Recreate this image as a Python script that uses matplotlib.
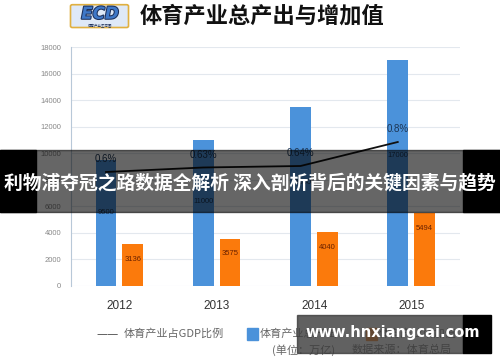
import matplotlib
matplotlib.use("Agg")
import matplotlib.pyplot as plt
from matplotlib.patches import Rectangle, FancyBboxPatch
import matplotlib.patheffects as pe
import numpy as np

plt.rcParams['font.family'] = ['Noto Sans CJK SC', 'DejaVu Sans']

# data
years = ["2012", "2013", "2014", "2015"]
output = [9500, 11000, 13500, 17000]       # 体育产业总产出
added = [3136, 3575, 4040, 5494]           # 体育产业增加值
gdp_ratio = [0.6, 0.63, 0.64, 0.8]         # 占GDP比例 (%)
gdp_labels = ["0.6%", "0.63%", "0.64%", "0.8%"]
yticks = [0, 2000, 4000, 6000, 8000, 10000, 12000, 14000, 16000, 18000]

blue = "#4b92da"
orange = "#fb7a0c"

fig = plt.figure(figsize=(5, 3.62), dpi=100)
ax = fig.add_axes([0.142, 0.21, 0.778, 0.66])

x = np.arange(len(years))
w = 0.215
xb = x - 0.14
xo = x + 0.135
ax.bar(xb, output, width=w, color=blue, zorder=3)
ax.bar(xo, added, width=w, color=orange, zorder=3)

for xi, v in zip(xb, output):
    ax.text(xi, v * 0.58, str(v), ha="center", va="center", fontsize=5.5,
            color="#1d3553", family="Liberation Sans", zorder=4)
for xi, v in zip(xo, added):
    ax.text(xi, v - 1150, str(v), ha="center", va="center", fontsize=5.5,
            color="#6b2200", family="Liberation Sans", zorder=4)

ax.set_xlim(-0.5, 3.5)
ax.set_ylim(0, 18000)
ax.set_yticks(yticks)
ax.set_yticklabels([str(t) for t in yticks], fontsize=5.5, color="#888888",
                   family="Liberation Sans")
ax.set_xticks(x)
ax.set_xticklabels(years, fontsize=8.5, color="#333333", family="Liberation Sans")
ax.tick_params(length=0, pad=7)
ax.tick_params(axis="x", pad=10)
ax.grid(axis="y", color="#e3e8ee", lw=0.8, zorder=0)
for s in ["top", "right", "bottom"]:
    ax.spines[s].set_visible(False)
ax.spines["left"].set_color("#b8c8d8")
ax.spines["left"].set_linewidth(0.8)

# GDP share line on a hidden second axis
ax2 = ax.twinx()
ax2.set_ylim(-0.16, 1.433)
ax2.plot(xb, gdp_ratio, color="#111111", lw=1.3, zorder=5)
for xi, v, lab in zip(xb, gdp_ratio, gdp_labels):
    ax2.text(xi, v + 0.085, lab, ha="center", va="center", fontsize=7,
             color="#1d3553", family="Liberation Sans")
ax2.axis("off")

# title with logo
fig.patches.append(FancyBboxPatch((0.145, 0.928), 0.108, 0.055,
                                  boxstyle="round,pad=0.004", transform=fig.transFigure,
                                  fc="#dfe9f7", ec="#e0b040", lw=1.2))
fig.text(0.2, 0.962, "ECD", ha="center", va="center", fontsize=12, fontweight="bold",
         style="italic", color="#3f78c8", family="DejaVu Sans",
         path_effects=[pe.withStroke(linewidth=1.5, foreground="#1c2f5a")])
fig.text(0.2, 0.931, "体育产业生态圈", ha="center", va="center", fontsize=2.5,
         color="#1c2f5a")
fig.text(0.28, 0.955, "体育产业总产出与增加值", ha="left", va="center", fontsize=16,
         fontweight="bold", color="#111111")

# legend
fig.text(0.192, 0.078, "——", ha="left", va="center", fontsize=8, color="#444444",
         family="DejaVu Sans")
fig.text(0.248, 0.078, "体育产业占GDP比例", ha="left", va="center", fontsize=8,
         color="#666666")
fig.patches.append(Rectangle((0.494, 0.062), 0.022, 0.032, transform=fig.transFigure,
                             color=blue))
fig.text(0.52, 0.078, "体育产业总产出", ha="left", va="center", fontsize=8, color="#666666")
fig.patches.append(Rectangle((0.732, 0.062), 0.022, 0.032, transform=fig.transFigure,
                             color=orange))
fig.text(0.757, 0.078, "体育产业增加值", ha="left", va="center", fontsize=8, color="#666666")
fig.text(0.544, 0.033, "(单位：万亿)", ha="left", va="center", fontsize=8, color="#666666")
fig.text(0.704, 0.033, "数据来源：体育总局", ha="left", va="center", fontsize=8,
         color="#666666")

# dark banner across the middle
b0, b1 = 1 - 212 / 362, 1 - 150 / 362
fig.patches.append(Rectangle((0, b0), 1, b1 - b0, transform=fig.transFigure,
                             color="black", alpha=0.6, zorder=10))
fig.patches.append(Rectangle((0, b0), 0.072, b1 - b0, transform=fig.transFigure,
                             color="black", zorder=10))
fig.patches.append(Rectangle((0.926, b0), 0.074, b1 - b0, transform=fig.transFigure,
                             color="black", zorder=10))
fig.text(0.5, 1 - 183 / 362, "利物浦夺冠之路数据全解析 深入剖析背后的关键因素与趋势",
         ha="center", va="center", fontsize=13.5, fontweight="bold", color="white",
         zorder=11)

# watermark
w0, w1 = 1 - 353 / 362, 1 - 315 / 362
fig.patches.append(Rectangle((0.594, w0), 0.332, w1 - w0, transform=fig.transFigure,
                             color="#3a3a3a", alpha=0.8, zorder=10))
fig.patches.append(Rectangle((0.926, w0), 0.056, w1 - w0, transform=fig.transFigure,
                             color="black", zorder=10))
fig.text(0.786, 1 - 333 / 362, "www.hnxiangcai.com", ha="center", va="center",
         fontsize=10.5, fontweight="bold", color="white", family="DejaVu Sans", zorder=11)

fig.savefig("out.png", dpi=100)
